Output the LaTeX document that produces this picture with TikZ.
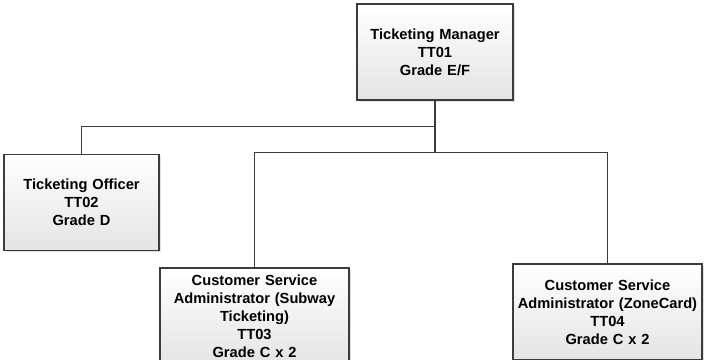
\documentclass[tikz,border=0pt]{standalone}
\usepackage{fontspec}
\setmainfont{Liberation Sans}
\usetikzlibrary{shadows}

\definecolor{edge1}{RGB}{60,60,60}
\definecolor{fill1}{RGB}{228,228,228}
\tikzstyle{role} = [draw=edge1, line width=0.8pt, rectangle, text centered, top color=white, bottom color=fill1, drop shadow={shadow xshift=1.2pt, shadow yshift=-1.2pt, opacity=0.25}, minimum height=72pt, inner sep=0pt, font=\fontsize{11}{13.5}\selectfont\bfseries]
\tikzstyle{link} = [draw=edge1, line width=1pt]

\begin{document}
\begin{tikzpicture}[node distance=2.5cm]
	\useasboundingbox (0,0) rectangle (528pt,-270pt);
	\node [role, minimum width=117pt, text width=115pt] at (326.25pt,-39pt) (manager) {Ticketing Manager\\TT01\\Grade E/F};
	\node [role, minimum width=116.25pt, text width=114pt, below of=manager, node distance=112.875pt, xshift=-265.125pt] (officer) {Ticketing Officer\\TT02\\Grade D};
	\node [role, minimum width=141.75pt, text width=139pt, below of=manager, node distance=198pt, xshift=-135.375pt] (subway) {Customer Service\\Administrator (Subway\\Ticketing)\\TT03\\Grade C x 2};
	\node [role, minimum width=141.75pt, text width=139pt, below of=manager, node distance=195pt, xshift=129.375pt] (zonecard) {Customer Service\\Administrator (ZoneCard)\\TT04\\Grade C x 2};

	% Manager to officer
	\draw [link] (manager.south) -- ++(0,-19.5pt) -| (officer.north);

	% Manager to administrators
	\draw [link] (manager.south) -- ++(0,-39pt) -| (subway.north);
	\draw [link] (manager.south) -- ++(0,-39pt) -| (zonecard.north);
\end{tikzpicture}
\end{document}
